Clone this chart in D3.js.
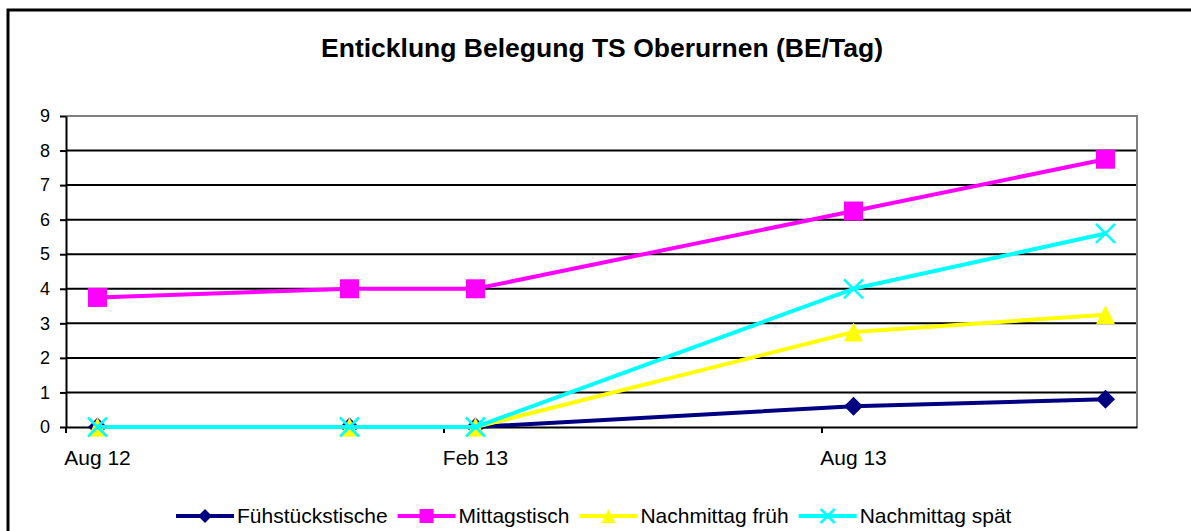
<!DOCTYPE html>
<html>
<head>
<meta charset="utf-8">
<script src="https://cdn.jsdelivr.net/npm/d3@7"></script>
<style>
	body { margin: 0; background: #fff; }
	svg { display: block; font-family: "Liberation Sans", Arial, sans-serif; }
</style>
</head>
<body>
<svg id="chart" width="1191" height="531"></svg>
<script>
(function() {

//DATA

	var months = ["2012-08", "2012-12", "2013-02", "2013-08", "2013-12"];
	var fruehstueck = [0, 0, 0, 0.6, 0.8];
	var mittag = [3.75, 4, 4, 6.25, 7.75];
	var nachmFrueh = [0, 0, 0, 2.75, 3.25];
	var nachmSpaet = [0, 0, 0, 4, 5.6];
	var seriesNames = ["Fühstückstische", "Mittagstisch", "Nachmittag früh", "Nachmittag spät"];
	var seriesColors = ["#000080", "#ff00ff", "#ffff00", "#00ffff"];
	var seriesMarkers = ["diamond", "square", "triangle", "cross"];
	var xTickLabels = ["Aug 12", "Feb 13", "Aug 13"];
	var yTicks = [0, 1, 2, 3, 4, 5, 6, 7, 8, 9];
	var title = "Enticklung Belegung TS Oberurnen (BE/Tag)";

//LAYOUT

	var svg = d3.select('#chart');
	var plot = {left: 66, right: 1137, top: 116, bottom: 427};
	var parseMonth = d3.timeParse('%Y-%m');
	var fmtMonth = d3.timeFormat('%Y-%m');

	var allMonths = d3.timeMonth.range(parseMonth("2012-08"), parseMonth("2014-01")).map(fmtMonth);

	var x = d3.scaleBand().domain(allMonths).range([plot.left, plot.right]).padding(0);
	var y = d3.scaleLinear().domain([0, 9]).range([plot.bottom, plot.top]);

	function xc(m) { return x(m) + x.bandwidth() / 2; }

	var series = [fruehstueck, mittag, nachmFrueh, nachmSpaet].map(function(vals, i) {
		return {
			name: seriesNames[i],
			color: seriesColors[i],
			marker: seriesMarkers[i],
			values: vals.map(function(v, j) { return {m: months[j], v: v}; })
		};
	});

	// outer chart border
	svg.append('rect')
		.attr('x', 8).attr('y', 10)
		.attr('width', 1300).attr('height', 700)
		.attr('fill', 'none')
		.attr('stroke', '#000')
		.attr('stroke-width', 3);

	svg.append('text')
		.attr('x', 602).attr('y', 57)
		.attr('text-anchor', 'middle')
		.attr('font-size', 26.5).attr('font-weight', 'bold')
		.text(title);

	// gridlines
	svg.append('g')
		.selectAll('line')
		.data(yTicks.filter(function(d) { return d > 0 && d < 9; }))
		.enter().append('line')
		.attr('x1', plot.left).attr('x2', plot.right)
		.attr('y1', function(d) { return y(d); })
		.attr('y2', function(d) { return y(d); })
		.attr('stroke', '#000').attr('stroke-width', 2);

	// plot border (top + right grey)
	svg.append('path')
		.attr('d', 'M' + plot.left + ',' + plot.top + 'H' + plot.right + 'V' + plot.bottom)
		.attr('fill', 'none').attr('stroke', '#808080').attr('stroke-width', 2);

	// y axis
	var yaxis = svg.append('g')
		.attr('transform', 'translate(' + plot.left + ',0)')
		.call(d3.axisLeft(y).tickValues(yTicks).tickSize(6).tickPadding(10).tickSizeOuter(0));
	yaxis.selectAll('text').attr('font-size', 18).attr('fill', '#000').style('font-family', 'inherit');
	yaxis.selectAll('line, path').attr('stroke', '#000').attr('stroke-width', 2);

	// x axis: labels centered on month bands, ticks on band starts
	var labelMonths = ["2012-08", "2013-02", "2013-08"];
	var xaxis = svg.append('g')
		.attr('transform', 'translate(0,' + plot.bottom + ')')
		.call(d3.axisBottom(x).tickValues(labelMonths).tickSize(0).tickPadding(23)
			.tickFormat(function(d, i) { return xTickLabels[i]; }));
	xaxis.selectAll('text').attr('font-size', 21).attr('fill', '#000').style('font-family', 'inherit');
	xaxis.select('.domain').attr('stroke', '#000').attr('stroke-width', 2);

	svg.append('g').selectAll('line')
		.data(labelMonths)
		.enter().append('line')
		.attr('x1', function(d) { return x(d); })
		.attr('x2', function(d) { return x(d); })
		.attr('y1', plot.bottom).attr('y2', plot.bottom + 6)
		.attr('stroke', '#000').attr('stroke-width', 2);

	// markers
	function markerPath(type, s) {
		var h = s / 2;
		if (type == 'diamond') return 'M0,' + (-h) + 'L' + h + ',0L0,' + h + 'L' + (-h) + ',0Z';
		if (type == 'square') return 'M' + (-h) + ',' + (-h) + 'H' + h + 'V' + h + 'H' + (-h) + 'Z';
		if (type == 'triangle') return 'M0,' + (-h) + 'L' + h + ',' + h + 'H' + (-h) + 'Z';
		return 'M' + (-h) + ',' + (-h) + 'L' + h + ',' + h + 'M' + h + ',' + (-h) + 'L' + (-h) + ',' + h;
	}

	function drawMarker(sel, d, size) {
		var p = sel.append('path').attr('d', markerPath(d.marker, size));
		if (d.marker == 'cross') {
			p.attr('fill', 'none').attr('stroke', d.color).attr('stroke-width', 2.5);
		} else {
			p.attr('fill', d.color).attr('stroke', 'none');
		}
		return p;
	}

	var line = d3.line()
		.x(function(d) { return xc(d.m); })
		.y(function(d) { return y(d.v); });

	series.forEach(function(s) {
		var g = svg.append('g');
		g.append('path')
			.attr('d', line(s.values))
			.attr('fill', 'none')
			.attr('stroke', s.color)
			.attr('stroke-width', 4)
			.attr('stroke-linejoin', 'round');
		s.values.forEach(function(p) {
			var mg = g.append('g').attr('transform', 'translate(' + xc(p.m) + ',' + y(p.v) + ')');
			drawMarker(mg, s, 19);
		});
	});

	// legend
	var lx = 176, ly = 516;
	series.forEach(function(s) {
		var g = svg.append('g').attr('transform', 'translate(' + lx + ',' + ly + ')');
		g.append('line').attr('x1', 0).attr('x2', 58)
			.attr('stroke', s.color).attr('stroke-width', 4);
		var mg = g.append('g').attr('transform', 'translate(29,0)');
		drawMarker(mg, s, 14);
		var t = g.append('text').attr('x', 61).attr('y', 7)
			.attr('font-size', 21).text(s.name);
		lx += 61 + t.node().getComputedTextLength() + 10;
	});

})()
</script>
</body>
</html>
